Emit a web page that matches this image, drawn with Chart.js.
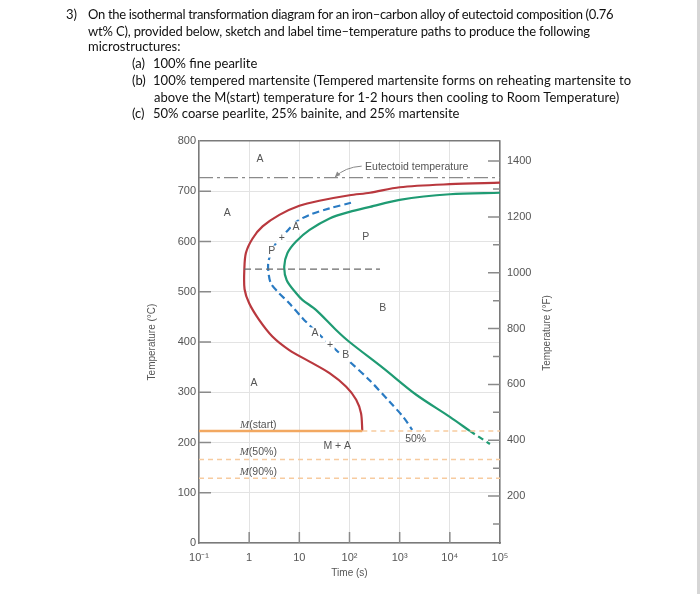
<!DOCTYPE html>
<html>
<head>
<meta charset="utf-8">
<script src="https://cdn.jsdelivr.net/npm/chart.js@4.4.0/dist/chart.umd.min.js"></script>
<style>
  html, body { margin: 0; padding: 0; background: #fff; }
  body { width: 700px; height: 594px; position: relative; overflow: hidden; }
  #ttt { position: absolute; left: 0; top: 0; }
  .q { position: absolute; font-family: Lato, 'Open Sans', sans-serif; font-size: 13px; line-height: 16px; color: #111; white-space: nowrap; }
  .tighter { letter-spacing: -0.32px; }
  .tight { letter-spacing: -0.17px; }
  .loose { letter-spacing: 0.06px; }
  #edge { position: absolute; right: 0; top: 0; width: 3px; height: 594px; background: #d6d6d6; }
</style>
</head>
<body>
<canvas id="ttt" width="700" height="594"></canvas>
<div class="q" style="left:66px;top:6px">3)</div>
<div class="q tighter" style="left:88px;top:6px">On the isothermal transformation diagram for an iron–carbon alloy of eutectoid composition (0.76</div>
<div class="q tight" style="left:88px;top:23px">wt% C), provided below, sketch and label time–temperature paths to produce the following</div>
<div class="q" style="left:88px;top:38px">microstructures:</div>
<div class="q" style="left:132px;top:55px">(a)</div>
<div class="q" style="left:153px;top:55px">100% fine pearlite</div>
<div class="q" style="left:132px;top:72px">(b)</div>
<div class="q loose" style="left:153px;top:72px">100% tempered martensite (Tempered martensite forms on reheating martensite to</div>
<div class="q loose" style="left:154px;top:89px">above the M(start) temperature for 1-2 hours then cooling to Room Temperature)</div>
<div class="q" style="left:132px;top:105px">(c)</div>
<div class="q" style="left:153px;top:105px">50% coarse pearlite, 25% bainite, and 25% martensite</div>
<div id="edge"></div>
<script>
// axes
const timeTicks = [0.1, 1, 10, 100, 1000, 10000, 100000];
const timeTickLabels = ['10⁻¹', '1', '10', '10²', '10³', '10⁴', '10⁵'];
const tempTicksC = [0, 100, 200, 300, 400, 500, 600, 700, 800];
const tempTicksF = [200, 400, 600, 800, 1000, 1200, 1400];
const tempMinorF = [100, 300, 500, 700, 900, 1100, 1300];

// transformation curves (time in s, temperature in °C)
const eutectoidTemp = 727;
const startTime = [100000, 10000, 1000, 257, 100, 25, 10, 4, 1.85, 1.17, 0.86, 0.8, 0.81, 1, 1.58, 2.9, 6.3, 16, 40, 86, 136, 170, 180];
const startTemp = [717, 714, 708, 697, 692, 681, 671, 653, 630, 606, 577, 543, 505, 477, 444, 411, 384, 361, 338, 311, 285, 258, 223];
const finishTime = [100000, 10000, 1000, 257, 100, 40, 16, 8.6, 5.8, 5, 5.6, 8.5, 11.5, 21.4, 54, 100, 470, 2140, 10000, 25000];
const finishTemp = [697, 694, 683, 669, 659, 646, 623, 600, 577, 550, 523, 498, 484, 464, 424, 400, 348, 295, 251, 223];
const finishLowTime = [25000, 63000];
const finishLowTemp = [223, 197];
const halfTime = [107, 40, 16, 8.6, 6, 3.4, 2.45, 2.4, 2.7, 3.7, 6.3, 11.7, 18.6, 54, 100, 251, 631, 1175, 1780];
const halfTemp = [677, 666, 653, 639, 623, 596, 563, 543, 517, 500, 477, 447, 427, 384, 361, 324, 281, 251, 225];

// martensite lines and the isothermal hold
const msTemp = 223;
const msEndTime = 180;
const m50Temp = 166;
const m90Temp = 129;
const isoTime = [0.79, 405];
const isoTemp = 545;

// text on the plot
const regionLabels = [
  { t: 1.64, c: 764, text: 'A' },
  { t: 0.366, c: 656, text: 'A' },
  { t: 210, c: 608, text: 'P' },
  { t: 2.81, c: 580, text: 'P', bg: true },
  { t: 4.45, c: 606, text: '+', bg: true },
  { t: 8.57, c: 628, text: 'A', bg: true },
  { t: 459, c: 467, text: 'B' },
  { t: 20.5, c: 417, text: 'A', bg: true },
  { t: 40.8, c: 394, text: '+', bg: true },
  { t: 84, c: 373, text: 'B', bg: true },
  { t: 1.25, c: 318, text: 'A' },
  { t: 2084, c: 206, text: '50%' },
  { t: 57, c: 192, text: 'M + A' }
];
const mLabels = [
  { t: 1.52, c: 235, text: '(start)' },
  { t: 1.52, c: 180, text: '(50%)' },
  { t: 1.52, c: 142, text: '(90%)' }
];
const eutectoidLabel = { t: 204, c: 749, text: 'Eutectoid temperature' };
const arrowPath = [{ t: 175, c: 750 }, { t: 81, c: 748 }, { t: 51, c: 728 }];

function pts(xs, ys) {
  return xs.map((x, i) => ({ x: x, y: ys[i] }));
}
function hline(t0, t1, c) {
  return [{ x: t0, y: c }, { x: t1, y: c }];
}

const tickColor = '#555';
const frameColor = '#7a7a7a';
const gridColor = '#e3e3e3';
Chart.defaults.font.family = "'Liberation Sans', Arial, sans-serif";

const innerTicks = {
  id: 'innerTicks',
  beforeDatasetsDraw(chart) {
    const { ctx, chartArea: a, scales: { x, y, y2 } } = chart;
    ctx.save();
    ctx.strokeStyle = '#8a8a8a';
    ctx.lineWidth = 1.5;
    ctx.beginPath();
    tempTicksC.slice(1, -1).forEach(v => {
      const py = y.getPixelForValue(v);
      ctx.moveTo(a.left, py); ctx.lineTo(a.left + 12, py);
    });
    timeTicks.slice(1, -1).forEach(v => {
      const px = x.getPixelForValue(v);
      ctx.moveTo(px, a.bottom); ctx.lineTo(px, a.bottom - 11);
    });
    tempTicksF.forEach(v => {
      const py = y2.getPixelForValue(v);
      ctx.moveTo(a.right, py); ctx.lineTo(a.right - 12, py);
    });
    tempMinorF.forEach(v => {
      const py = y2.getPixelForValue(v);
      ctx.moveTo(a.right, py); ctx.lineTo(a.right - 7, py);
    });
    ctx.stroke();
    ctx.restore();
  }
};

const plotText = {
  id: 'plotText',
  afterDatasetsDraw(chart) {
    const { ctx, chartArea: a, scales: { x, y, y2 } } = chart;
    ctx.save();
    ctx.fillStyle = tickColor;
    ctx.textBaseline = 'middle';
    ctx.textAlign = 'center';
    ctx.font = "10.5px 'Liberation Sans', Arial, sans-serif";
    regionLabels.forEach(l => {
      const px = x.getPixelForValue(l.t), py = y.getPixelForValue(l.c);
      if (l.bg) {
        const w = ctx.measureText(l.text).width + 3;
        ctx.fillStyle = '#fff';
        ctx.fillRect(px - w / 2, py - 6, w, 12);
        ctx.fillStyle = tickColor;
      }
      ctx.fillText(l.text, px, py);
    });

    // M(...) labels with italic M
    mLabels.forEach(l => {
      const px = x.getPixelForValue(l.t), py = y.getPixelForValue(l.c);
      ctx.font = "italic 11px 'Liberation Serif', serif";
      const wm = ctx.measureText('M').width;
      ctx.font = "10.5px 'Liberation Sans', Arial, sans-serif";
      const wr = ctx.measureText(l.text).width;
      const x0 = px - (wm + wr) / 2;
      ctx.textAlign = 'left';
      ctx.font = "italic 11px 'Liberation Serif', serif";
      ctx.fillText('M', x0, py);
      ctx.font = "10.5px 'Liberation Sans', Arial, sans-serif";
      ctx.fillText(l.text, x0 + wm, py);
      ctx.textAlign = 'center';
    });

    // eutectoid label and arrow
    ctx.textAlign = 'left';
    ctx.fillText(eutectoidLabel.text, x.getPixelForValue(eutectoidLabel.t), y.getPixelForValue(eutectoidLabel.c));
    const p = arrowPath.map(q => [x.getPixelForValue(q.t), y.getPixelForValue(q.c)]);
    ctx.strokeStyle = '#888';
    ctx.lineWidth = 1;
    ctx.beginPath();
    ctx.moveTo(p[0][0], p[0][1]);
    ctx.quadraticCurveTo(p[1][0], p[1][1], p[2][0], p[2][1]);
    ctx.stroke();
    const ang = Math.atan2(p[2][1] - p[1][1], p[2][0] - p[1][0]);
    ctx.fillStyle = '#888';
    ctx.beginPath();
    ctx.moveTo(p[2][0], p[2][1]);
    ctx.lineTo(p[2][0] - 6 * Math.cos(ang - 0.4), p[2][1] - 6 * Math.sin(ang - 0.4));
    ctx.lineTo(p[2][0] - 6 * Math.cos(ang + 0.4), p[2][1] - 6 * Math.sin(ang + 0.4));
    ctx.closePath();
    ctx.fill();

    // right axis title, reading upwards like the left one
    ctx.fillStyle = tickColor;
    ctx.font = "10px 'Liberation Sans', Arial, sans-serif";
    ctx.translate(y2.left + 47, (a.top + a.bottom) / 2 - 9);
    ctx.rotate(-Math.PI / 2);
    ctx.textAlign = 'center';
    ctx.fillText('Temperature (°F)', 0, 0);
    ctx.restore();
  }
};

const thin = { pointRadius: 0, fill: false, showLine: true };

new Chart(document.getElementById('ttt'), {
  type: 'scatter',
  data: {
    datasets: [
      Object.assign({ data: hline(0.1, msEndTime, msTemp), borderColor: '#f2a861', borderWidth: 2.6 }, thin),
      Object.assign({ data: hline(msEndTime, 100000, msTemp), borderColor: '#f7cb9f', borderWidth: 1.5, borderDash: [5, 4] }, thin),
      Object.assign({ data: hline(0.1, 100000, m50Temp), borderColor: '#f7cb9f', borderWidth: 1.5, borderDash: [5, 4] }, thin),
      Object.assign({ data: hline(0.1, 100000, m90Temp), borderColor: '#f7cb9f', borderWidth: 1.5, borderDash: [5, 4] }, thin),
      Object.assign({ data: hline(0.1, 100000, eutectoidTemp), borderColor: '#8a8a8a', borderWidth: 1.3, borderDash: [14, 4, 3, 4] }, thin),
      Object.assign({ data: hline(isoTime[0], isoTime[1], isoTemp), borderColor: '#6a6a6a', borderWidth: 1.3, borderDash: [7, 4] }, thin),
      Object.assign({ data: pts(startTime, startTemp), borderColor: '#b9383e', borderWidth: 2.2, tension: 0.3 }, thin),
      Object.assign({ data: pts(finishTime, finishTemp), borderColor: '#1f9b73', borderWidth: 2.2, tension: 0.3 }, thin),
      Object.assign({ data: pts(finishLowTime, finishLowTemp), borderColor: '#1f9b73', borderWidth: 2.2, borderDash: [6, 4] }, thin),
      Object.assign({ data: pts(halfTime, halfTemp), borderColor: '#2a7bc3', borderWidth: 2.2, borderDash: [7, 4], tension: 0.3 }, thin)
    ]
  },
  options: {
    responsive: false,
    animation: false,
    devicePixelRatio: 1,
    layout: { padding: { left: 140, top: 141, right: 0, bottom: 0 } },
    plugins: { legend: { display: false }, tooltip: { enabled: false } },
    scales: {
      x: {
        type: 'logarithmic',
        min: 0.1,
        max: 100000,
        afterBuildTicks: s => { s.ticks = timeTicks.map(v => ({ value: v })); },
        afterFit: s => { s.height = 51; },
        ticks: { callback: (v, i) => timeTickLabels[i], color: tickColor, font: { size: 11 }, padding: 8, maxRotation: 0, autoSkip: false },
        grid: { color: gridColor, drawTicks: false },
        border: { color: frameColor, width: 1.5 },
        title: { display: true, text: 'Time (s)', color: tickColor, font: { size: 10 }, padding: { top: 0, bottom: 15 } }
      },
      y: {
        min: 0,
        max: 800,
        afterBuildTicks: s => { s.ticks = tempTicksC.map(v => ({ value: v })); },
        afterFit: s => { s.width = 59; },
        ticks: { color: tickColor, font: { size: 11 }, padding: 3 },
        grid: {
          color: c => (c.tick && c.tick.value === 800 ? frameColor : gridColor),
          lineWidth: c => (c.tick && c.tick.value === 800 ? 1.5 : 1),
          drawTicks: false
        },
        border: { color: frameColor, width: 1.5 },
        title: { display: true, text: 'Temperature (°C)', color: tickColor, font: { size: 10 }, padding: { top: 6, bottom: 0 } }
      },
      y2: {
        position: 'right',
        min: 32,
        max: 1472,
        afterBuildTicks: s => { s.ticks = tempTicksF.concat(tempMinorF).sort((a, b) => a - b).map(v => ({ value: v })); },
        afterFit: s => { s.width = 200; },
        ticks: { callback: v => (v % 200 === 0 ? String(v) : ''), color: tickColor, font: { size: 11 }, padding: 7 },
        grid: { drawOnChartArea: false, drawTicks: false },
        border: { color: frameColor, width: 1.5 }
      }
    }
  },
  plugins: [innerTicks, plotText]
});
</script>
</body>
</html>
